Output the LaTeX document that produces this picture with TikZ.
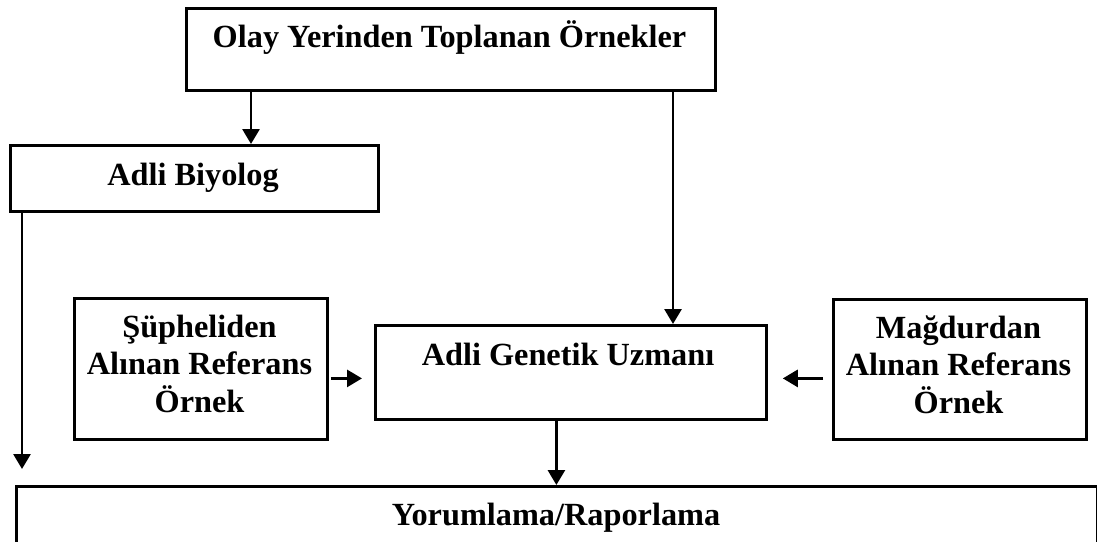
\documentclass[tikz,border=0pt]{standalone}
\usepackage{fontspec}
\setmainfont{Liberation Serif}
\usetikzlibrary{arrows.meta,calc}
\begin{document}
\begin{tikzpicture}[x=1pt,y=-1pt,
  box/.style={draw, line width=2.8pt, inner sep=0pt, anchor=north west},
  lbl/.style={font=\bfseries\fontsize{32.3}{37.5}\selectfont, align=center, inner sep=0pt, anchor=base},
  link/.style={line width=2.8pt, -{Triangle[length=15pt,width=17pt]}}]
\useasboundingbox (0,0) rectangle (1097,541);
\clip (0,0) rectangle (1097,541);

% frames
\node[box, minimum width=529pt, minimum height=82pt]  (olay) at (185,7)   {};
\node[box, minimum width=368pt, minimum height=66pt]  (biyo) at (9,144)   {};
\node[box, minimum width=253pt, minimum height=141pt] (sup)  at (73,297)  {};
\node[box, minimum width=391pt, minimum height=94pt]  (gen)  at (374,324) {};
\node[box, minimum width=253pt, minimum height=140pt] (mag)  at (832,298) {};
\node[box, minimum width=1081pt, minimum height=90pt] (yor)  at (15,485)  {};

% labels (multi-line labels sit on the baseline of their last line)
\node[lbl] (olayT) at (449.5,47) {Olay Yerinden Toplanan Örnekler};
\node[lbl] (biyoT) at (193,185)  {Adli Biyolog};
\node[lbl] (supT)  at (199.5,412) {Şüpheliden\\Alınan Referans\\Örnek};
\node[lbl] (genT)  at (568,365)  {Adli Genetik Uzmanı};
\node[lbl] (magT)  at (958.5,413) {Mağdurdan\\Alınan Referans\\Örnek};
\node[lbl] (yorT)  at (556,525)  {Yorumlama/Raporlama};

% connectors
\coordinate (xa) at (251,0);
\coordinate (xb) at (673,0);
\coordinate (bEnd) at (22,469);
\draw[link] (xa |- olay.south) -- (xa |- biyo.north);
\draw[link] (xb |- olay.south) -- (xb |- gen.north);
\draw[link] (bEnd |- biyo.south) -- (bEnd);
\draw[link] ($(sup.east)+(2,9.5)$) -- ($(gen.west)+(-12,6)$);
\draw[link] ($(mag.west)+(-9,9)$) -- ($(gen.east)+(15,6)$);
\coordinate (xc) at ($(gen.south)+(-14.5,0)$);
\draw[link] (xc) -- (xc |- yor.north);
\end{tikzpicture}
\end{document}
